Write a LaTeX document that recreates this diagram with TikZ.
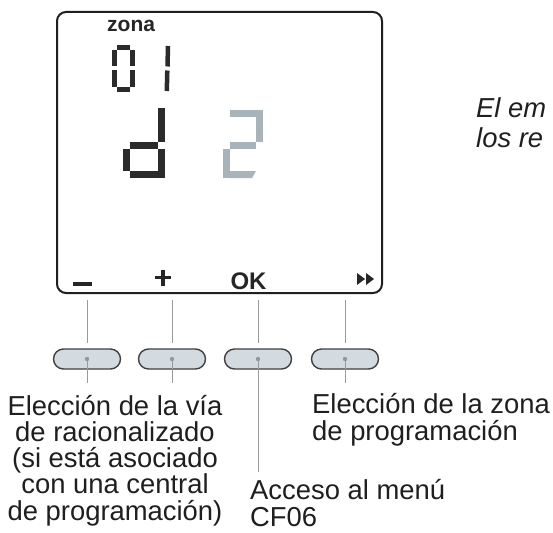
\documentclass[tikz,border=0pt]{standalone}
\usepackage{fontspec}
\setmainfont{Liberation Sans}
\definecolor{btnfill}{HTML}{D3DBE1}
\definecolor{dotcol}{HTML}{8C9AA4}
\definecolor{segdark}{HTML}{2B2B2B}
\definecolor{seglight}{HTML}{A9B3BA}
\definecolor{leadcol}{HTML}{9A9A9A}
\begin{document}
\begin{tikzpicture}[x=1pt,y=-1pt,
  lbl/.style={font=\fontsize{27.4}{26.25}\selectfont, inner sep=0pt, text=black!88},
  segd/.style={draw=segdark, line width=7pt, line cap=butt},
  segs/.style={draw=segdark, line width=4.5pt, line cap=butt},
  segl/.style={draw=seglight, line width=7pt, line cap=butt},
  btn/.style={draw=black!75, line width=1.4pt, fill=btnfill, rounded corners=10pt,
              minimum width=67pt, minimum height=20pt, inner sep=0pt},
  lead/.style={draw=leadcol, line width=0.8pt},
  screenbox/.style={draw=black!88, line width=2pt, rounded corners=9pt,
              minimum width=325pt, minimum height=281pt, inner sep=0pt},
]
\useasboundingbox (0,0) rectangle (553,532);
\fill[white] (0,0) rectangle (553,532);

% screen
\node[screenbox] (screen) at (219.5,152.5) {};
\node[font=\bfseries\fontsize{21}{21}\selectfont, anchor=base west, inner sep=0pt, text=black!85] (zona) at (107,32) {zona};

% "01"
\draw[segs] (117,47.5) -- (130,47.5);
\draw[segs] (114.5,50) -- (114.5,66.5);
\draw[segs] (114.5,70.5) -- (114.5,87);
\draw[segs] (132.5,50) -- (132.5,66.5);
\draw[segs] (132.5,70.5) -- (132.5,87);
\draw[segs] (117,89.5) -- (130,89.5);
\draw[segs] (168,46) -- (167.5,66.5);
\draw[segs] (167.3,70.5) -- (166.8,91);

% "d"
\draw[segd] (161,108) -- (161,141.5);
\draw[segd] (161,148.5) -- (161,178);
\draw[segd] (129.5,145) -- (157.5,145);
\draw[segd] (126,148.5) -- (126,170.5);
\draw[segd] (129.5,174.5) -- (157.5,174.5);

% "2"
\draw[segl] (229.5,113.5) -- (255.5,113.5);
\draw[segl] (259,110) -- (259,141.5);
\draw[segl] (229.5,145) -- (255.5,145);
\draw[segl] (226,148.5) -- (226,178);
\fill[seglight] (229.5,171) -- (256,171) -- (252,178) -- (229.5,178) -- cycle;

% key legends on the screen
\fill[black!85] (73,281.5) rectangle (92,285.5);
\draw[black!85, line width=3.2pt] (155,277.5) -- (171,277.5) (163,269.5) -- (163,285.5);
\node[font=\bfseries\fontsize{24}{24}\selectfont, anchor=base, inner sep=0pt, text=black!85] (ok) at (248.5,289) {OK};
\fill[black!85] (357,273) -- (365,279) -- (357,285) -- cycle;
\fill[black!85] (366,273) -- (374,279) -- (366,285) -- cycle;

% buttons
\node[btn] (b1) at (87,359) {};
\node[btn] (b2) at (172,359) {};
\node[btn] (b3) at (258,359) {};
\node[btn] (b4) at (345,359) {};

% upper leads
\coordinate (t1) at (87,300);
\coordinate (t2) at (172,300);
\coordinate (t3) at (258,300);
\coordinate (t4) at (345,300);
\draw[lead] (t1) -- ([yshift=5pt]b1.north);
\draw[lead] (t2) -- ([yshift=5pt]b2.north);
\draw[lead] (t3) -- ([yshift=5pt]b3.north);
\draw[lead] (t4) -- ([yshift=5pt]b4.north);

% lower leads
\coordinate (e1) at (87,383);
\coordinate (e2) at (172,383);
\coordinate (e3) at (258,472);
\coordinate (e4) at (345,383);
\draw[lead] (b1.center) -- (e1);
\draw[lead] (b2.center) -- (e2);
\draw[lead] (b3.center) -- (e3);
\draw[lead] (b4.center) -- (e4);

% button dots
\fill[dotcol] (b1.center) circle (2.2pt);
\fill[dotcol] (b2.center) circle (2.2pt);
\fill[dotcol] (b3.center) circle (2.2pt);
\fill[dotcol] (b4.center) circle (2.2pt);

% labels (base anchor = baseline of the last line)
\node[lbl, align=center, anchor=base] (lab1) at (115,520)
  {Elección de la vía\\de racionalizado\\(si está asociado\\con una central\\de programación)};
\node[lbl, align=left, anchor=base west] (lab4) at (312,440)
  {Elección de la zona\\de programación};
\node[lbl, align=left, anchor=base west] (lab3) at (250,526)
  {Acceso al menú\\CF06};

% cut-off italic text
\node[lbl, font=\fontsize{27.4}{30}\selectfont\itshape, align=left, anchor=base west] (note) at (476,147)
  {El em\\los re};
\end{tikzpicture}
\end{document}
